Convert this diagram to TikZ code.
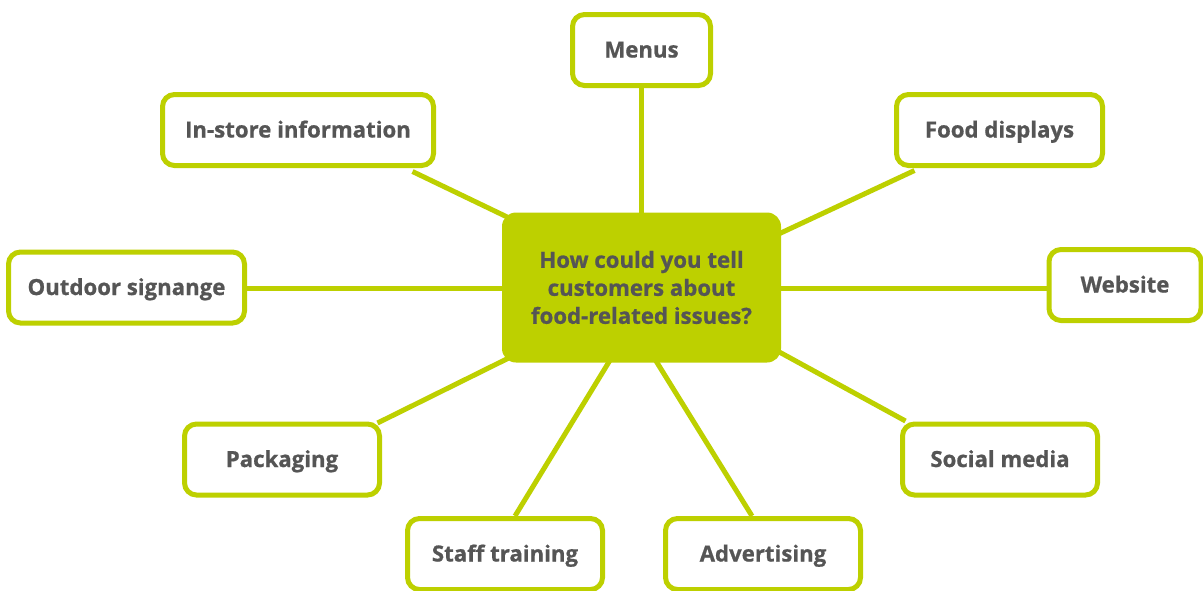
\documentclass[tikz,border=0pt]{standalone}
\usepackage{fontspec}
\setmainfont{Open Sans}
\newfontfamily\labelfont{Open Sans}[BoldFeatures={FakeBold=0.8}]
\usetikzlibrary{calc,backgrounds}
\definecolor{lime}{HTML}{BDD000}
\definecolor{ink}{HTML}{555555}
\begin{document}
\begin{tikzpicture}[x=1pt,y=-1pt,
  leaf/.style={draw=lime, line width=5pt, fill=white, rounded corners=12pt,
    inner sep=0pt, minimum height=71pt, text=ink, text height=15pt, text depth=0pt,
    font=\labelfont\fontsize{22.2}{26}\selectfont\bfseries},
  hubbox/.style={fill=lime, rounded corners=14pt, inner sep=0pt,
    minimum width=279pt, minimum height=150pt, text=ink, align=center,
    font=\labelfont\fontsize{22.2}{28}\selectfont\bfseries},
  link/.style={draw=lime, line width=5pt}]
\useasboundingbox (0,0) rectangle (1203,590);

% central question
\node[hubbox] (hub) at (641.5,287.5) {How could you tell\\customers about\\food-related issues?};

% surrounding channels
\node[leaf, minimum width=138pt] (menus)   at (641.5,50)    {Menus};
\node[leaf, minimum width=271pt] (instore) at (298,130)     {In-store information};
\node[leaf, minimum width=206pt] (food)    at (999.5,130)   {Food displays};
\node[leaf, minimum width=236pt] (outdoor) at (126.5,287.5) {Outdoor signange};
\node[leaf, minimum width=152pt] (web)     at (1125,285)    {Website};
\node[leaf, minimum width=195pt] (pack)    at (282,459.5)   {Packaging};
\node[leaf, minimum width=195pt] (social)  at (1000,459.5)  {Social media};
\node[leaf, minimum width=195pt] (staff)   at (505,554)     {Staff training};
\node[leaf, minimum width=195pt] (advert)  at (763,554)     {Advertising};

% spokes, kept behind the boxes
\begin{pgfonlayer}{background}
  \draw[link] (menus.south) -- (hub.center |- menus.south) -- ($(hub.north)+(0,20)$);
  \draw[link] ($(instore.south east)+(-23.5,3.5)$) -- ($(hub.north west)+(58,30)$);
  \draw[link] ($(food.south west)+(20.5,2.5)$) -- ($(hub.north east)+(-61,49)$);
  \draw[link] ($(outdoor.east)+(-2,0.5)$) -- ($(hub.west)+(30,0.5)$);
  \draw[link] ($(web.west)+(2,3)$) -- ($(hub.east)+(-30,0.5)$);
  \draw[link] ($(pack.north east)+(-4.5,1.5)$) -- ($(hub.south west)+(58,-30)$);
  \draw[link] ($(social.north west)+(5.5,-0.5)$) -- ($(hub.south east)+(-61,-43)$);
  \draw[link] ($(staff.north)+(10,0)$) -- ($(hub.south)+(-13.5,-32)$);
  \draw[link] ($(advert.north)+(-11,0)$) -- ($(hub.south)+(-3,-30)$);
\end{pgfonlayer}
\end{tikzpicture}
\end{document}
